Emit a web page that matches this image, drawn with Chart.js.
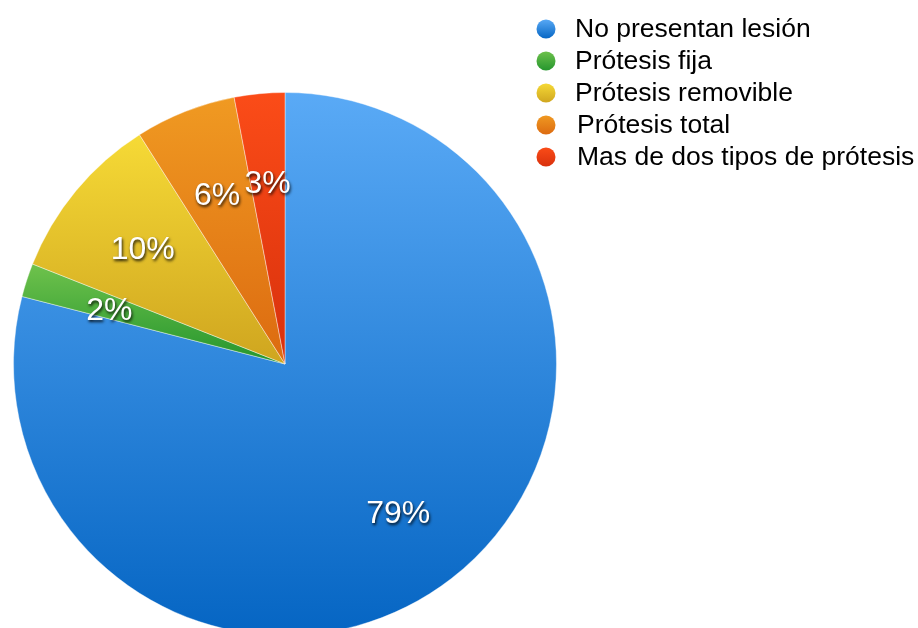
<!DOCTYPE html>
<html>
<head>
<meta charset="utf-8">
<script src="https://cdn.jsdelivr.net/npm/chart.js@4/dist/chart.umd.min.js"></script>
<style>
  html, body { margin: 0; padding: 0; background: #fff; overflow: hidden; }
  #wrap { width: 918px; height: 628px; overflow: hidden; position: relative; }
  canvas { position: absolute; left: 0; top: 0; }
</style>
</head>
<body>
<div id="wrap">
  <canvas id="pie" width="918" height="700"></canvas>
</div>
<script>
const categories = [
  "No presentan lesión",
  "Prótesis fija",
  "Prótesis removible",
  "Prótesis total",
  "Mas de dos tipos de prótesis"
];
const percentages = [79, 2, 10, 6, 3];
const labelTexts = ["79%", "2%", "10%", "6%", "3%"];

// light (top) and dark (bottom) shade for each slice
const topColors = ["#5aaaf6", "#6fc24c", "#f6da36", "#f09a22", "#fb4c18"];
const bottomColors = ["#0565c3", "#24952d", "#cfa51f", "#dc6a10", "#d8300c"];

const FONT = '"Liberation Sans", Arial, Helvetica, sans-serif';

// vertical gradient over the bounding box of one slice
function sliceGradient(ctx) {
  const chart = ctx.chart;
  const i = ctx.dataIndex;
  const area = chart.chartArea;
  if (!area) return topColors[i];
  const cx = (area.left + area.right) / 2;
  const cy = (area.top + area.bottom) / 2;
  const r = Math.min(area.right - area.left, area.bottom - area.top) / 2;
  const total = percentages.reduce((a, b) => a + b, 0);
  let start = 0;
  for (let k = 0; k < i; k++) start += percentages[k];
  const a0 = start / total * Math.PI * 2;
  const a1 = (start + percentages[i]) / total * Math.PI * 2;
  const ys = [cy, cy - r * Math.cos(a0), cy - r * Math.cos(a1)];
  if (a0 <= 0) ys.push(cy - r);
  if (a0 <= Math.PI && a1 >= Math.PI) ys.push(cy + r);
  const y0 = Math.min(...ys), y1 = Math.max(...ys);
  const g = chart.ctx.createLinearGradient(0, y0, 0, y1);
  g.addColorStop(0, topColors[i]);
  g.addColorStop(1, bottomColors[i]);
  return g;
}

const sliceLabels = {
  id: "sliceLabels",
  afterDatasetsDraw(chart) {
    const c = chart.ctx;
    const meta = chart.getDatasetMeta(0);
    c.save();
    c.font = "32px " + FONT;
    c.textAlign = "center";
    c.textBaseline = "middle";
    meta.data.forEach((arc, i) => {
      const p = arc.getProps(["x", "y", "startAngle", "endAngle", "outerRadius"], true);
      const mid = (p.startAngle + p.endAngle) / 2;
      const d = p.outerRadius * 0.68;
      const x = p.x + Math.cos(mid) * d;
      const y = p.y + Math.sin(mid) * d + 4;
      c.shadowColor = "rgba(0,0,0,0.85)";
      c.shadowBlur = 3;
      c.shadowOffsetX = 1;
      c.shadowOffsetY = 2;
      c.fillStyle = "#ffffff";
      c.fillText(labelTexts[i], x, y);
    });
    c.restore();
  }
};

const sideLegend = {
  id: "sideLegend",
  afterDraw(chart) {
    const c = chart.ctx;
    c.save();
    c.font = "26.5px " + FONT;
    c.textBaseline = "middle";
    c.textAlign = "left";
    categories.forEach((name, i) => {
      const cy = 29 + i * 32;
      const g = c.createLinearGradient(0, cy - 10, 0, cy + 10);
      g.addColorStop(0, topColors[i]);
      g.addColorStop(1, bottomColors[i]);
      c.beginPath();
      c.arc(546, cy, 9.5, 0, Math.PI * 2);
      c.fillStyle = g;
      c.fill();
      c.fillStyle = "#000000";
      c.fillText(name, i < 3 ? 575 : 577, cy + 1);
    });
    c.restore();
  }
};

new Chart(document.getElementById("pie"), {
  type: "pie",
  data: {
    labels: categories,
    datasets: [{
      data: percentages,
      backgroundColor: sliceGradient,
      borderColor: "rgba(255,255,255,0.4)",
      borderWidth: 1
    }]
  },
  options: {
    responsive: false,
    animation: false,
    devicePixelRatio: 1,
    layout: { padding: { left: 13, top: 92, right: 361, bottom: 64 } },
    plugins: {
      legend: { display: false },
      tooltip: { enabled: false }
    }
  },
  plugins: [sliceLabels, sideLegend]
});
</script>
</body>
</html>
